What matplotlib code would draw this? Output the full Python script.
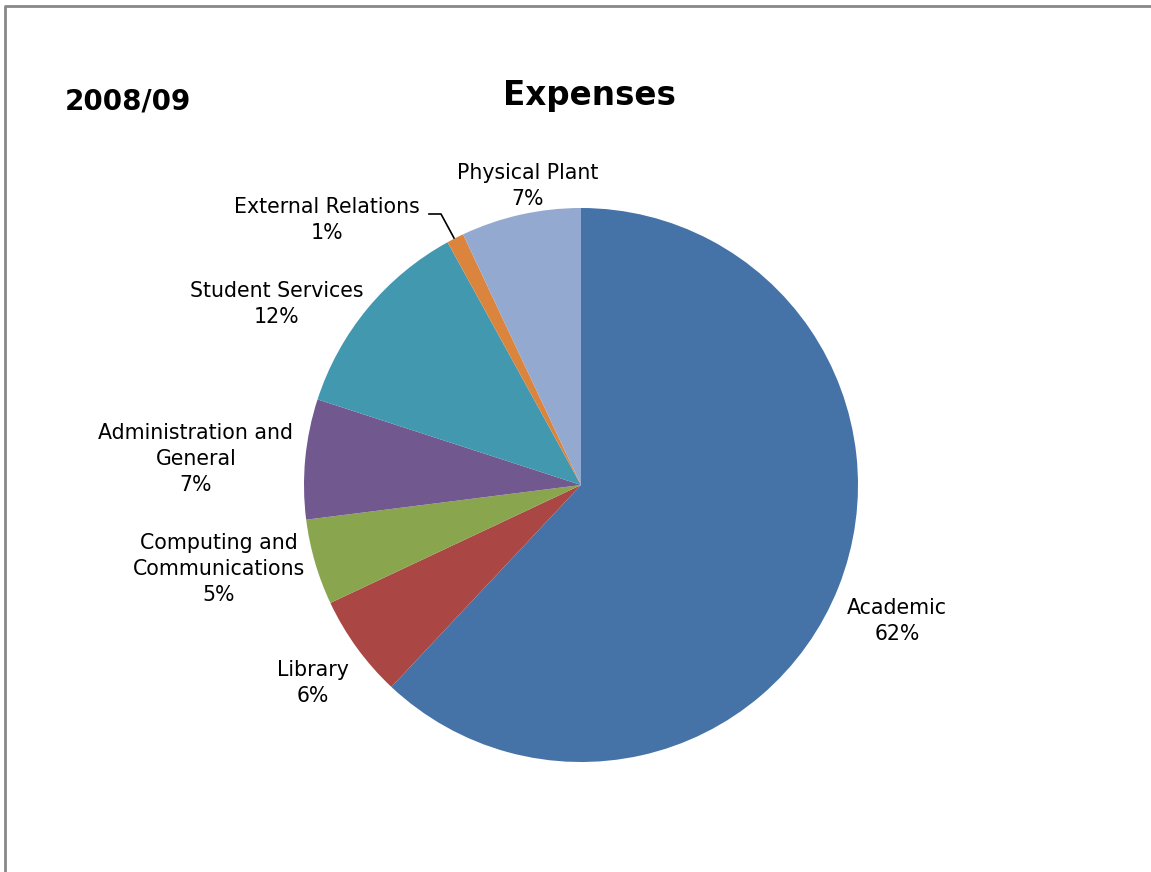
import matplotlib
matplotlib.use("Agg")
import matplotlib.pyplot as plt
from matplotlib.lines import Line2D

# Data
categories = ["Academic", "Library", "Computing and\nCommunications", "Administration and\nGeneral",
              "Student Services", "External Relations", "Physical Plant"]
values = [62, 6, 5, 7, 12, 1, 7]
colors = ["#4572A7", "#AA4643", "#89A54E", "#71588F", "#4198AF", "#DB843D", "#93A9CF"]

# Layout (pixel coords, y measured from top)
W, H = 1151, 872
cx, cy, R = 581, 485, 277
label_pos = [(897, 621), (313, 683), (219, 569), (196, 459), (277, 304), (327, 220), (528, 186)]

fig = plt.figure(figsize=(W / 100, H / 100), dpi=100)
ax = fig.add_axes([0, 0, 1, 1])

ax.pie(values, colors=colors, startangle=90, counterclock=False, center=(cx, H - cy), radius=R,
       wedgeprops=dict(linewidth=0), frame=True)
ax.set_xlim(0, W)
ax.set_ylim(0, H)
ax.set_aspect("equal")
ax.axis("off")

for cat, v, (lx, ly) in zip(categories, values, label_pos):
    ax.text(lx, H - ly, f"{cat}\n{v}%", ha="center", va="center", fontsize=14.8,
            family="DejaVu Sans", linespacing=1.4)

# leader line for External Relations
ax.add_line(Line2D([429, 441, 454], [H - 214, H - 214, H - 238], color="black", lw=1.2))

fig.text(589 / W, 1 - 96 / H, "Expenses", ha="center", va="center", fontsize=23.5, fontweight="bold")
fig.text(128 / W, 1 - 101 / H, "2008/09", ha="center", va="center", fontsize=20, fontweight="bold")

# border
ax.add_line(Line2D([5, 5, W], [0, H - 6, H - 6], color="#888888", lw=2))

fig.savefig("out.png", dpi=100)
